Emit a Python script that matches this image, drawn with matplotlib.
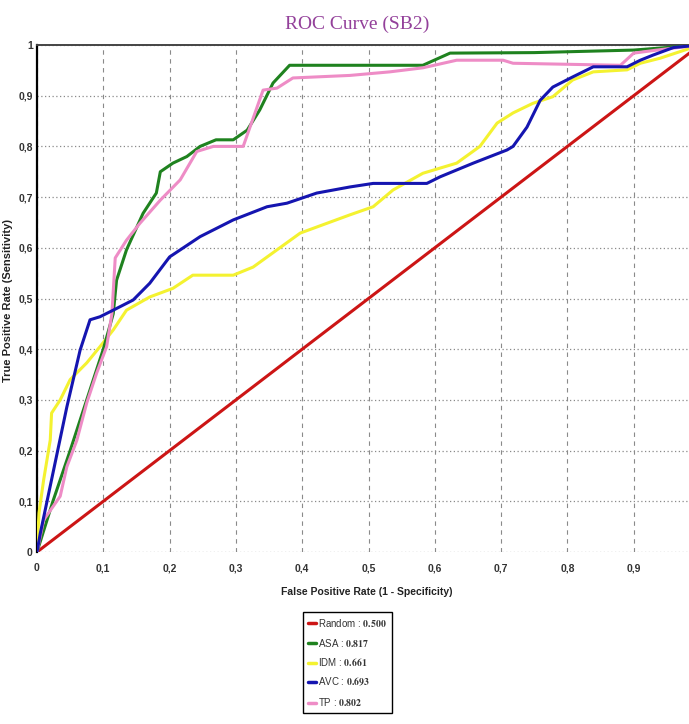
import matplotlib
matplotlib.use("Agg")
import matplotlib.pyplot as plt

plt.rcParams["mathtext.fontset"] = "stix"

# ---------------- data ----------------
names = ["Random", "ASA", "IDM", "AVC", "TP"]
auc_values = ["0.500", "0.817", "0.661", "0.693", "0.802"]

random_x = [0.0, 1.0]
random_y = [0.0, 1.0]

asa_x = [0, 0.024, 0.05, 0.08, 0.1, 0.115, 0.12, 0.135, 0.16, 0.18, 0.186, 0.205, 0.226,
         0.246, 0.27, 0.296, 0.317, 0.336, 0.356, 0.381, 0.472, 0.582, 0.623, 0.75, 0.9, 1.0]
asa_y = [0, 0.10, 0.20, 0.32, 0.40, 0.47, 0.536, 0.596, 0.668, 0.708, 0.75, 0.767, 0.78,
         0.80, 0.813, 0.813, 0.832, 0.872, 0.925, 0.96, 0.96, 0.96, 0.984, 0.985, 0.99, 1.0]

idm_x = [0, 0.003, 0.01, 0.02, 0.022, 0.035, 0.05, 0.075, 0.095, 0.115, 0.135, 0.17, 0.205,
         0.235, 0.296, 0.326, 0.362, 0.397, 0.422, 0.472, 0.507, 0.537, 0.582, 0.633, 0.668,
         0.694, 0.718, 0.748, 0.778, 0.808, 0.839, 0.89, 0.91, 0.94, 1.0]
idm_y = [0, 0.077, 0.142, 0.221, 0.274, 0.30, 0.34, 0.373, 0.405, 0.438, 0.477, 0.503, 0.52,
         0.546, 0.546, 0.562, 0.596, 0.629, 0.641, 0.665, 0.681, 0.714, 0.747, 0.767, 0.80,
         0.846, 0.866, 0.885, 0.898, 0.931, 0.947, 0.951, 0.964, 0.974, 1.0]

avc_x = [0, 0.005, 0.045, 0.065, 0.08, 0.095, 0.115, 0.145, 0.17, 0.2, 0.246, 0.296, 0.347,
         0.377, 0.422, 0.472, 0.507, 0.588, 0.608, 0.658, 0.709, 0.718, 0.739, 0.759, 0.778,
         0.808, 0.839, 0.89, 0.91, 0.929, 0.96, 1.0]
avc_y = [0, 0.037, 0.286, 0.398, 0.458, 0.464, 0.477, 0.497, 0.53, 0.582, 0.622, 0.655, 0.681,
         0.688, 0.708, 0.72, 0.727, 0.727, 0.74, 0.767, 0.793, 0.80, 0.838, 0.891, 0.917,
         0.937, 0.957, 0.957, 0.97, 0.98, 0.995, 1.0]

tp_x = [0, 0.01, 0.035, 0.045, 0.06, 0.075, 0.09, 0.105, 0.113, 0.116, 0.118, 0.135, 0.155,
        0.186, 0.216, 0.241, 0.266, 0.311, 0.341, 0.362, 0.386, 0.472, 0.532, 0.582, 0.633,
        0.703, 0.718, 0.88, 0.9, 0.935, 1.0]
tp_y = [0, 0.063, 0.11, 0.168, 0.22, 0.294, 0.353, 0.405, 0.47, 0.536, 0.58, 0.615, 0.648,
        0.694, 0.734, 0.79, 0.80, 0.80, 0.911, 0.915, 0.935, 0.94, 0.947, 0.955, 0.97,
        0.97, 0.964, 0.96, 0.984, 0.99, 1.0]

x_ticks = [0, 0.1, 0.2, 0.3, 0.4, 0.5, 0.6, 0.7, 0.8, 0.9]
x_tick_labels = ["0", "0,1", "0,2", "0,3", "0,4", "0,5", "0,6", "0,7", "0,8", "0,9"]
y_ticks = [0, 0.1, 0.2, 0.3, 0.4, 0.5, 0.6, 0.7, 0.8, 0.9, 1.0]
y_tick_labels = ["0", "0,1", "0,2", "0,3", "0,4", "0,5", "0,6", "0,7", "0,8", "0,9", "1"]

colors = ["#cc1515", "#1f821f", "#f4f230", "#1515b0", "#ee8cc6"]

# ---------------- figure ----------------
W, H = 689, 724
fig = plt.figure(figsize=(W / 100, H / 100), dpi=100)
ax = fig.add_axes([37 / W, (H - 552) / H, (W - 37) / W, 507 / H])

series = [(random_x, random_y), (asa_x, asa_y), (idm_x, idm_y), (avc_x, avc_y), (tp_x, tp_y)]
zorders = [3, 4, 3, 5, 4]
handles = []
for (xs, ys), c, n, z in zip(series, colors, names, zorders):
    h, = ax.plot(xs, ys, color=c, lw=2.2, label=n, zorder=z, solid_capstyle="round")
    handles.append(h)

ax.set_xlim(0, (W - 37) / 663)
ax.set_ylim(0, 1)
ax.set_xticks(x_ticks, x_tick_labels)
ax.set_yticks(y_ticks, y_tick_labels)
ax.tick_params(length=0, labelsize=7.5, labelcolor="#333333")
ax.tick_params(axis="x", pad=8)
ax.tick_params(axis="y", pad=3)
for lab in ax.get_xticklabels() + ax.get_yticklabels():
    lab.set_family("Liberation Sans")
    lab.set_fontweight("bold")

ax.xaxis.grid(True, color="#8a8a8a", lw=0.8, linestyle=(0, (4, 4)))
ax.yaxis.grid(True, color="#8a8a8a", lw=0.9, linestyle=(0, (1, 2)))
ax.set_axisbelow(True)
for s in ["right", "bottom"]:
    ax.spines[s].set_visible(False)
ax.spines["left"].set_color("black")
ax.spines["left"].set_linewidth(1.6)
ax.spines["top"].set_color("#444444")
ax.spines["top"].set_linewidth(1.4)

fig.text(357 / W, (H - 24) / H, "ROC Curve (SB2)", ha="center", va="center",
         family="Liberation Serif", fontsize=14, color="#93409a")
fig.text(367 / W, (H - 592) / H, "False Positive Rate (1 - Specificity)", ha="center",
         va="center", family="Liberation Sans", fontsize=7.5, fontweight="bold", color="#222222")
fig.text(8 / W, (H - 300) / H, "True Positive Rate (Sensitivity)", ha="center",
         va="center", rotation=90, family="Liberation Sans", fontsize=8,
         fontweight="bold", color="#222222")

labels = [n + " : " + r"$\mathbf{" + v + "}$" for n, v in zip(names, auc_values)]
leg = fig.legend(handles, labels, loc="upper left",
                 bbox_to_anchor=(303 / W, (H - 612) / H), bbox_transform=fig.transFigure,
                 frameon=True, fancybox=False, edgecolor="black", framealpha=1,
                 handlelength=0.8, handletextpad=0.25, labelspacing=0.8,
                 borderpad=0.5, prop={"family": "Liberation Sans", "size": 7},
                 borderaxespad=0)
leg.get_frame().set_linewidth(1.0)
for t in leg.get_texts():
    t.set_color("#333333")
for lh in leg.get_lines():
    lh.set_linewidth(2.5)

fig.savefig("out.png", dpi=100)
